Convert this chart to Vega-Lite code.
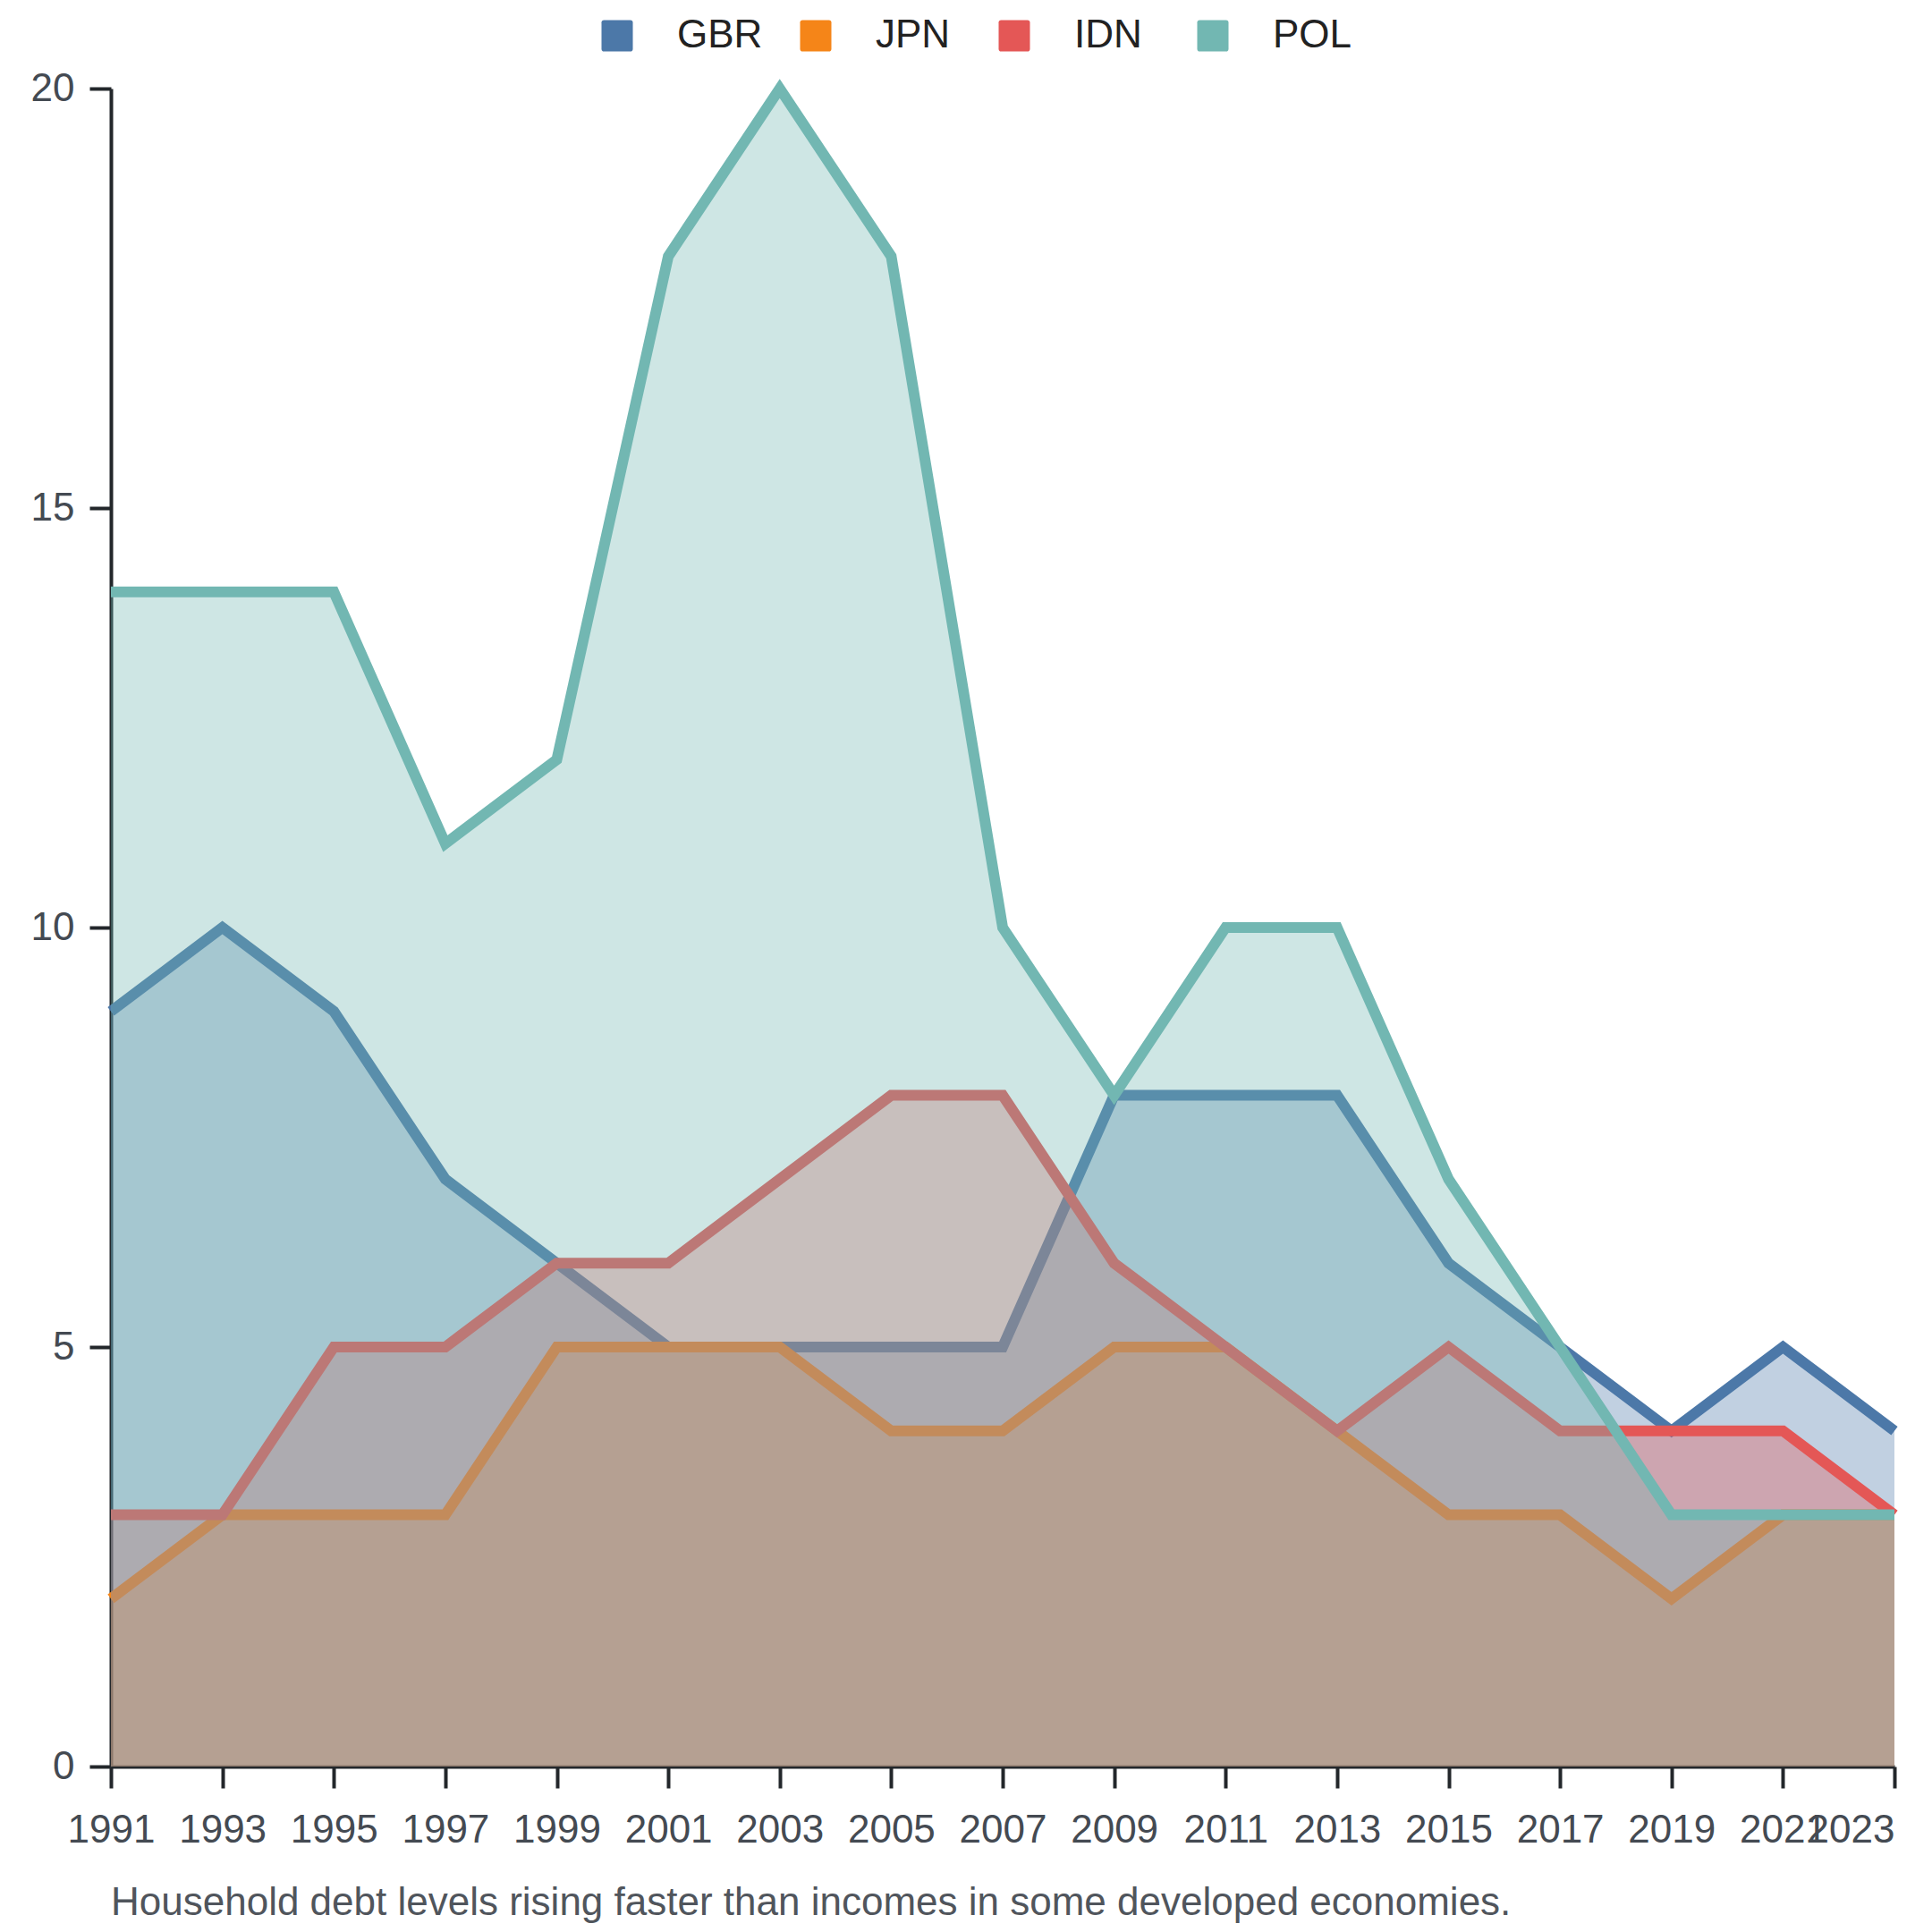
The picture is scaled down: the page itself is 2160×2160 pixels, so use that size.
{
  "$schema": "https://vega.github.io/schema/vega-lite/v6.json",
  "width": 1994,
  "height": 1876,
  "autosize": {"type": "none"},
  "padding": {"left": 124, "top": 99, "right": 42, "bottom": 185},
  "background": "white",
  "title": {
    "text": "Household debt levels rising faster than incomes in some developed economies.",
    "orient": "bottom",
    "anchor": "start",
    "frame": "group",
    "offset": 38,
    "font": "Liberation Sans",
    "fontSize": 44,
    "fontWeight": "normal",
    "color": "#50555c"
  },
  "data": {
    "values": [
      {"year": 1991, "country": "GBR", "value": 9}, {"year": 1993, "country": "GBR", "value": 10},
      {"year": 1995, "country": "GBR", "value": 9}, {"year": 1997, "country": "GBR", "value": 7},
      {"year": 1999, "country": "GBR", "value": 6}, {"year": 2001, "country": "GBR", "value": 5},
      {"year": 2003, "country": "GBR", "value": 5}, {"year": 2005, "country": "GBR", "value": 5},
      {"year": 2007, "country": "GBR", "value": 5}, {"year": 2009, "country": "GBR", "value": 8},
      {"year": 2011, "country": "GBR", "value": 8}, {"year": 2013, "country": "GBR", "value": 8},
      {"year": 2015, "country": "GBR", "value": 6}, {"year": 2017, "country": "GBR", "value": 5},
      {"year": 2019, "country": "GBR", "value": 4}, {"year": 2021, "country": "GBR", "value": 5},
      {"year": 2023, "country": "GBR", "value": 4},
      {"year": 1991, "country": "JPN", "value": 2}, {"year": 1993, "country": "JPN", "value": 3},
      {"year": 1995, "country": "JPN", "value": 3}, {"year": 1997, "country": "JPN", "value": 3},
      {"year": 1999, "country": "JPN", "value": 5}, {"year": 2001, "country": "JPN", "value": 5},
      {"year": 2003, "country": "JPN", "value": 5}, {"year": 2005, "country": "JPN", "value": 4},
      {"year": 2007, "country": "JPN", "value": 4}, {"year": 2009, "country": "JPN", "value": 5},
      {"year": 2011, "country": "JPN", "value": 5}, {"year": 2013, "country": "JPN", "value": 4},
      {"year": 2015, "country": "JPN", "value": 3}, {"year": 2017, "country": "JPN", "value": 3},
      {"year": 2019, "country": "JPN", "value": 2}, {"year": 2021, "country": "JPN", "value": 3},
      {"year": 2023, "country": "JPN", "value": 3},
      {"year": 1991, "country": "IDN", "value": 3}, {"year": 1993, "country": "IDN", "value": 3},
      {"year": 1995, "country": "IDN", "value": 5}, {"year": 1997, "country": "IDN", "value": 5},
      {"year": 1999, "country": "IDN", "value": 6}, {"year": 2001, "country": "IDN", "value": 6},
      {"year": 2003, "country": "IDN", "value": 7}, {"year": 2005, "country": "IDN", "value": 8},
      {"year": 2007, "country": "IDN", "value": 8}, {"year": 2009, "country": "IDN", "value": 6},
      {"year": 2011, "country": "IDN", "value": 5}, {"year": 2013, "country": "IDN", "value": 4},
      {"year": 2015, "country": "IDN", "value": 5}, {"year": 2017, "country": "IDN", "value": 4},
      {"year": 2019, "country": "IDN", "value": 4}, {"year": 2021, "country": "IDN", "value": 4},
      {"year": 2023, "country": "IDN", "value": 3},
      {"year": 1991, "country": "POL", "value": 14}, {"year": 1993, "country": "POL", "value": 14},
      {"year": 1995, "country": "POL", "value": 14}, {"year": 1997, "country": "POL", "value": 11},
      {"year": 1999, "country": "POL", "value": 12}, {"year": 2001, "country": "POL", "value": 18},
      {"year": 2003, "country": "POL", "value": 20}, {"year": 2005, "country": "POL", "value": 18},
      {"year": 2007, "country": "POL", "value": 10}, {"year": 2009, "country": "POL", "value": 8},
      {"year": 2011, "country": "POL", "value": 10}, {"year": 2013, "country": "POL", "value": 10},
      {"year": 2015, "country": "POL", "value": 7}, {"year": 2017, "country": "POL", "value": 5},
      {"year": 2019, "country": "POL", "value": 3}, {"year": 2021, "country": "POL", "value": 3},
      {"year": 2023, "country": "POL", "value": 3}
    ]
  },
  "encoding": {
    "x": {
      "field": "year",
      "type": "quantitative",
      "title": null,
      "scale": {"domain": [1991, 2023], "nice": false, "zero": false},
      "axis": {
        "values": [1991, 1993, 1995, 1997, 1999, 2001, 2003, 2005, 2007, 2009, 2011, 2013, 2015, 2017, 2019, 2021, 2023],
        "format": "d",
        "grid": false,
        "labelAngle": 0,
        "labelOverlap": false,
        "labelAlign": {"condition": {"test": "datum.value == 2023", "value": "right"}, "value": "center"},
        "labelPadding": 25
      }
    },
    "y": {
      "field": "value",
      "type": "quantitative",
      "title": null,
      "scale": {"domain": [0, 20], "nice": false},
      "axis": {"values": [0, 5, 10, 15, 20], "grid": false, "labelPadding": 17}
    },
    "color": {
      "field": "country",
      "type": "nominal",
      "scale": {
        "domain": ["GBR", "JPN", "IDN", "POL"],
        "range": ["#4c78a8", "#f58518", "#e45756", "#72b7b2"]
      },
      "legend": {
        "title": null,
        "orient": "none",
        "direction": "horizontal",
        "legendX": 544,
        "legendY": -81,
        "symbolType": "M -0.84 -1 L 0.84 -1 Q 1 -1 1 -0.84 L 1 0.84 Q 1 1 0.84 1 L -0.84 1 Q -1 1 -1 0.84 L -1 -0.84 Q -1 -1 -0.84 -1 Z",
        "symbolSize": 1225,
        "symbolOpacity": 1,
        "symbolStrokeWidth": 0,
        "labelOffset": 45,
        "columnPadding": 37,
        "gridAlign": "all",
        "labelFont": "Liberation Sans",
        "labelFontSize": 44,
        "labelColor": "#222222"
      }
    }
  },
  "layer": [
    {"transform": [{"filter": "datum.country == 'GBR'"}], "mark": {"type": "area", "fillOpacity": 0.35}},
    {"transform": [{"filter": "datum.country == 'GBR'"}], "mark": {"type": "line", "strokeWidth": 12}},
    {"transform": [{"filter": "datum.country == 'JPN'"}], "mark": {"type": "area", "fillOpacity": 0.35}},
    {"transform": [{"filter": "datum.country == 'JPN'"}], "mark": {"type": "line", "strokeWidth": 12}},
    {"transform": [{"filter": "datum.country == 'IDN'"}], "mark": {"type": "area", "fillOpacity": 0.35}},
    {"transform": [{"filter": "datum.country == 'IDN'"}], "mark": {"type": "line", "strokeWidth": 12}},
    {"transform": [{"filter": "datum.country == 'POL'"}], "mark": {"type": "area", "fillOpacity": 0.35}},
    {"transform": [{"filter": "datum.country == 'POL'"}], "mark": {"type": "line", "strokeWidth": 12}}
  ],
  "config": {
    "view": {"stroke": null},
    "axis": {
      "labelFont": "Liberation Sans",
      "labelFontSize": 44,
      "labelColor": "#444a52",
      "domainColor": "#23272b",
      "domainWidth": 4,
      "tickColor": "#23272b",
      "tickWidth": 4,
      "tickSize": 24
    }
  }
}
